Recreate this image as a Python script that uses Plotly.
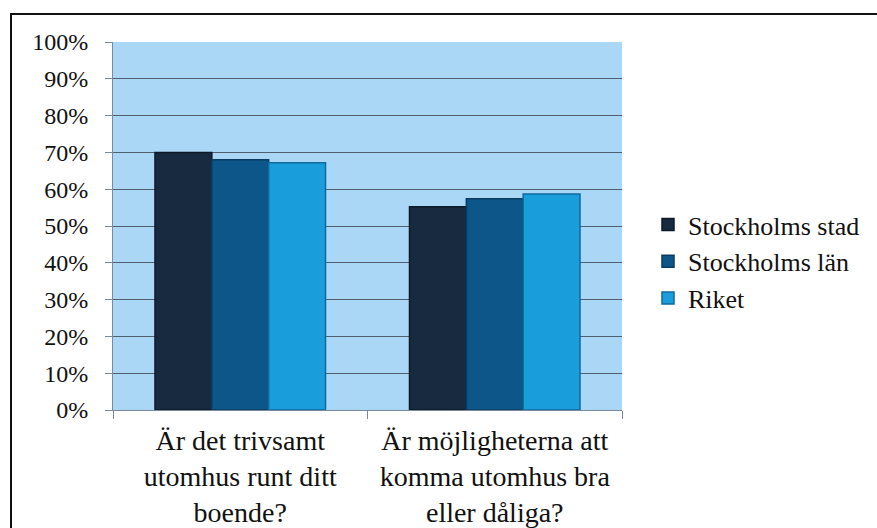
import plotly.graph_objects as go

categories = ["Är det trivsamt<br>utomhus runt ditt<br>boende?",
              "Är möjligheterna att<br>komma utomhus bra<br>eller dåliga?"]
series_names = ["Stockholms stad", "Stockholms län", "Riket"]
stad = [0.70, 0.552]
lan = [0.68, 0.574]
riket = [0.672, 0.587]
colors = ["#172a40", "#0c5689", "#1a9edb"]
edge = ["#0d1a2a", "#0a3c62", "#0f6a9e"]

W, H = 877, 528
L, R, T, B = 113, 622, 42, 410

fig = go.Figure()
for name, vals, c, e in zip(series_names, [stad, lan, riket], colors, edge):
    fig.add_trace(go.Bar(name=name, x=categories, y=vals,
                         marker=dict(color=c, line=dict(color=e, width=1.5))))

def px(x):
    return (x - L) / (R - L)

def py(y):
    return (B - y) / (B - T)

SERIF = "Liberation Serif"

fig.update_layout(
    width=W, height=H,
    margin=dict(l=L, r=W - R, t=T, b=H - B, autoexpand=False),
    paper_bgcolor="white", plot_bgcolor="#a9d7f5",
    barmode="group", bargap=0.33, bargroupgap=0,
    font=dict(family=SERIF, color="#111111"),
    showlegend=True,
    legend=dict(x=px(648), y=py(201), xanchor="left", yanchor="top",
                font=dict(size=26, family=SERIF), bgcolor="rgba(0,0,0,0)",
                traceorder="normal", itemwidth=30),
    shapes=[
        dict(type="line", xref="paper", yref="paper", x0=px(10), x1=px(877),
             y0=py(14), y1=py(14), line=dict(color="#111111", width=2)),
        dict(type="line", xref="paper", yref="paper", x0=px(11), x1=px(11),
             y0=py(14), y1=py(528), line=dict(color="#111111", width=2)),
    ],
)
fig.update_yaxes(range=[0, 1], dtick=0.1, tickformat=".0%",
                 showgrid=True, gridcolor="#4f5f70", gridwidth=1,
                 showline=True, linecolor="#7a8a9a", linewidth=1,
                 ticks="outside", ticklen=7, tickcolor="#7a8a9a",
                 ticklabelstandoff=12,
                 tickfont=dict(size=24, family=SERIF), zeroline=False)
fig.update_xaxes(showline=True, linecolor="#7a8a9a", linewidth=1,
                 ticks="outside", ticklen=8, tickcolor="#7a8a9a",
                 tickson="boundaries", tickfont=dict(size=28, family=SERIF),
                 ticklabelstandoff=5)

fig.write_html("out.html", config={"displayModeBar": False},
               post_script="document.body.style.margin='0';document.body.style.overflow='hidden';")
